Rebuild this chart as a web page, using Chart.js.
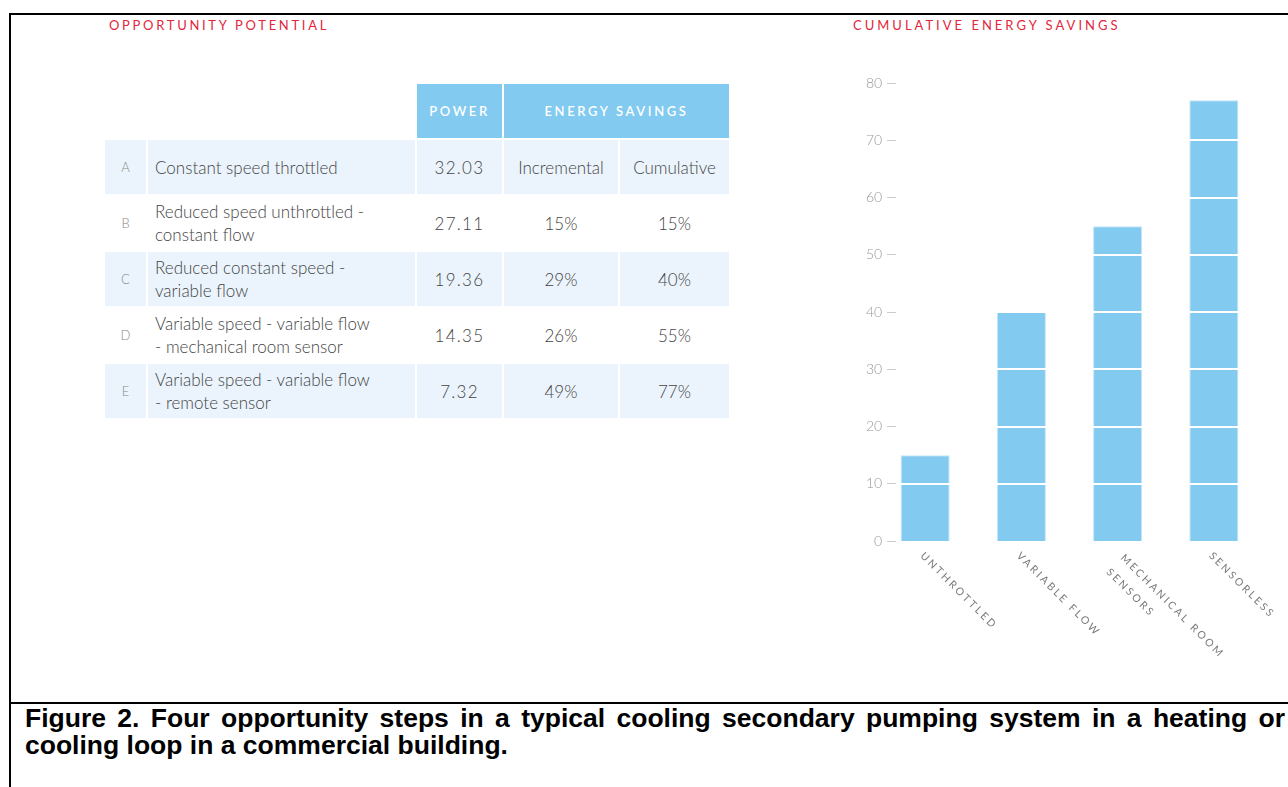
<!DOCTYPE html>
<html lang="en">
<head>
    <meta charset="UTF-8">
    <title>Opportunity Potential</title>
    <script src="https://cdn.jsdelivr.net/npm/chart.js"></script>
    <style>
        body {
            margin: 0;
            width: 1288px;
            height: 787px;
            position: relative;
            overflow: hidden;
            background: #fff;
            font-family: Lato, "Open Sans", sans-serif;
        }
        .rule { position: absolute; background: #000; }
        .section-title {
            position: absolute;
            color: #e2263b;
            font-size: 13px;
            letter-spacing: 2.7px;
        }
        #stepsTable {
            position: absolute;
            left: 103px;
            top: 82px;
            width: 626px;
            border-collapse: collapse;
            table-layout: fixed;
            color: #444;
            font-weight: 300;
        }
        #stepsTable td, #stepsTable th {
            border: 2px solid #fff;
            padding: 0;
            height: 54px;
            text-align: center;
            font-size: 17px;
        }
        #stepsTable th {
            background: #82caf0;
            color: #fff;
            font-size: 13px;
            font-weight: 600;
            letter-spacing: 2.6px;
        }
        #stepsTable th.blank { background: #fff; }
        #stepsTable tr.shade td { background: #ebf4fc; }
        #stepsTable td.letter { color: #8a8a8a; font-size: 13px; }
        #stepsTable td.name { text-align: left; padding-left: 7px; line-height: 23px; }
        #stepsTable td.num { letter-spacing: 1.3px; }
        #chartBox {
            position: absolute;
            left: 850px;
            top: 60px;
            width: 438px;
            height: 620px;
        }
        #caption {
            position: absolute;
            left: 25px;
            top: 705px;
            width: 1260px;
            font-family: "Liberation Sans", Arial, sans-serif;
            font-weight: bold;
            font-size: 26.5px;
            line-height: 27px;
            text-align: justify;
            color: #000;
        }
    </style>
</head>
<body>
    <div class="rule" style="left:9px; top:13px; width:1279px; height:2px;"></div>
    <div class="rule" style="left:9px; top:13px; width:2px; height:774px;"></div>
    <div class="rule" style="left:9px; top:702px; width:1279px; height:2px;"></div>

    <div class="section-title" style="left:109px; top:17px;">OPPORTUNITY POTENTIAL</div>
    <div class="section-title" style="left:853px; top:17px; letter-spacing:3px;">CUMULATIVE ENERGY SAVINGS</div>

    <table id="stepsTable">
        <colgroup>
            <col style="width:43px"><col style="width:269px"><col style="width:87px"><col style="width:116px"><col style="width:111px">
        </colgroup>
        <thead>
            <tr><th class="blank" colspan="2"></th><th>POWER</th><th colspan="2">ENERGY SAVINGS</th></tr>
        </thead>
        <tbody id="stepsBody"></tbody>
    </table>

    <div id="chartBox"><canvas id="savingsChart"></canvas></div>

    <div id="caption">Figure 2. Four opportunity steps in a typical cooling secondary pumping system in a heating or cooling loop in a commercial building.</div>

    <script>
        // table data
        var stepLetters = ["A", "B", "C", "D", "E"];
        var stepNames = [
            "Constant speed throttled",
            "Reduced speed unthrottled -<br>constant flow",
            "Reduced constant speed -<br>variable flow",
            "Variable speed - variable flow<br>- mechanical room sensor",
            "Variable speed - variable flow<br>- remote sensor"
        ];
        var powerValues = ["32.03", "27.11", "19.36", "14.35", "7.32"];
        var incrementalSavings = [15, 29, 26, 49];

        // chart data (steps B to E)
        var stepCategories = [["UNTHROTTLED"], ["VARIABLE FLOW"], ["MECHANICAL ROOM", "SENSORS"], ["SENSORLESS"]];
        var cumulativeSavings = [15, 40, 55, 77];
        var yMin = 0;
        var yMax = 80;
        var yStep = 10;

        var body = document.getElementById("stepsBody");
        stepLetters.forEach(function (letter, i) {
            var incr = i === 0 ? "Incremental" : incrementalSavings[i - 1] + "%";
            var cum = i === 0 ? "Cumulative" : cumulativeSavings[i - 1] + "%";
            var tr = document.createElement("tr");
            if (i % 2 === 0) tr.className = "shade";
            tr.innerHTML = `<td class="letter">${letter}</td>
                <td class="name">${stepNames[i]}</td>
                <td class="num">${powerValues[i]}</td>
                <td>${incr}</td>
                <td>${cum}</td>`;
            body.appendChild(tr);
        });

        // white lines every 10 units, drawn over the bars
        var segmentLines = {
            id: "segmentLines",
            afterDatasetsDraw: function (chart) {
                var ctx = chart.ctx;
                var y = chart.scales.y;
                var area = chart.chartArea;
                ctx.save();
                ctx.strokeStyle = "#ffffff";
                ctx.lineWidth = 2;
                for (var v = yMin + yStep; v < yMax; v += yStep) {
                    var py = Math.round(y.getPixelForValue(v));
                    ctx.beginPath();
                    ctx.moveTo(area.left, py);
                    ctx.lineTo(area.right, py);
                    ctx.stroke();
                }
                ctx.restore();
            }
        };

        // y tick labels with a dash, reaching into the plot area
        var dashTicks = {
            id: "dashTicks",
            afterDraw: function (chart) {
                var ctx = chart.ctx;
                var y = chart.scales.y;
                var right = chart.chartArea.left + 20;
                ctx.save();
                ctx.fillStyle = "#999";
                ctx.font = "300 14px Lato";
                ctx.textAlign = "right";
                ctx.textBaseline = "middle";
                y.ticks.forEach(function (t) {
                    ctx.fillText(t.value + " \u2014", right, y.getPixelForValue(t.value));
                });
                ctx.restore();
            }
        };

        // slanted category labels, reading downwards to the right
        var slantedLabels = {
            id: "slantedLabels",
            afterDraw: function (chart) {
                var ctx = chart.ctx;
                var x = chart.scales.x;
                var base = chart.scales.y.getPixelForValue(0);
                ctx.save();
                ctx.fillStyle = "#7a7a7a";
                ctx.font = "10.5px Lato";
                ctx.letterSpacing = "2.5px";
                ctx.textAlign = "left";
                ctx.textBaseline = "middle";
                stepCategories.forEach(function (lines, i) {
                    var cx = x.getPixelForValue(i);
                    ctx.save();
                    ctx.translate(cx - 3, base + 13);
                    ctx.rotate(Math.PI / 4);
                    lines.forEach(function (line, j) {
                        var u = lines.length > 1 ? 7 : 0;
                        var v = lines.length > 1 ? -4 + j * 20 : 0;
                        ctx.fillText(line, u, v);
                    });
                    ctx.restore();
                });
                ctx.restore();
            }
        };

        new Chart(document.getElementById("savingsChart"), {
            type: "bar",
            data: {
                labels: stepCategories,
                datasets: [{
                    data: cumulativeSavings,
                    backgroundColor: "#82caf0",
                    borderColor: "#c4e6f8",
                    borderWidth: 1,
                    barPercentage: 0.51,
                    categoryPercentage: 1
                }]
            },
            options: {
                responsive: true,
                maintainAspectRatio: false,
                animation: false,
                layout: { padding: { top: 23, right: 26, bottom: 139, left: 0 } },
                plugins: { legend: { display: false }, tooltip: { enabled: false } },
                scales: {
                    x: { display: false },
                    y: {
                        min: yMin,
                        max: yMax,
                        grid: { display: false, drawTicks: false },
                        border: { display: false },
                        afterFit: function (scale) { scale.width = 27; },
                        ticks: { stepSize: yStep, display: false }
                    }
                }
            },
            plugins: [segmentLines, dashTicks, slantedLabels]
        });
    </script>
</body>
</html>
